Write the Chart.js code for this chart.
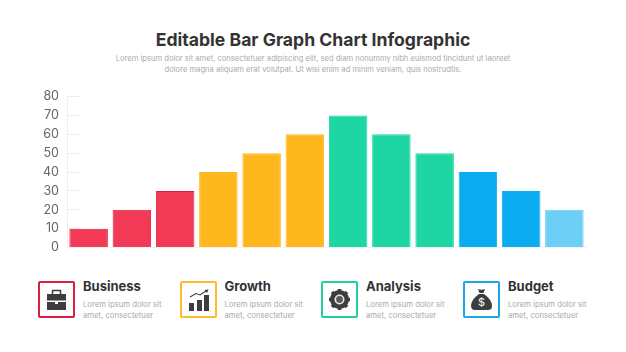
<!DOCTYPE html>
<html>
<head>
<meta charset="utf-8">
<script src="https://cdn.jsdelivr.net/npm/chart.js@4"></script>
<style>
  html, body { margin: 0; padding: 0; background: #fff; }
  body { position: relative; width: 626px; height: 352px; overflow: hidden; font-family: "Inter", sans-serif; }
  .abs { position: absolute; }
  #title { left: 0; width: 626px; top: 29px; text-align: center; font-size: 17.6px; line-height: 22px; font-weight: 700; color: #333; }
  #sub { left: 0; width: 626px; top: 53px; text-align: center; font-size: 7.6px; line-height: 11px; color: #aaa; }
  #chart-wrap { left: 0; top: 68px; width: 626px; height: 208px; }
  .box { width: 33px; height: 33px; top: 281px; border: 2px solid; border-radius: 2px; }
  .box svg { position: absolute; left: 6px; top: 6px; width: 21px; height: 21px; overflow: visible; }
  .head { top: 278px; font-size: 13px; line-height: 16px; font-weight: 700; color: #333; }
  .desc { top: 298.5px; font-size: 7.7px; line-height: 11px; color: #aaa; white-space: nowrap; }
</style>
</head>
<body>
<div id="title" class="abs">Editable Bar Graph Chart Infographic</div>
<div id="sub" class="abs">Lorem ipsum dolor sit amet, consectetuer adipiscing elit, sed diam nonummy nibh euismod tincidunt ut laoreet<br>dolore magna aliquam erat volutpat. Ut wisi enim ad minim veniam, quis nostrudtis.</div>
<div id="chart-wrap" class="abs"><canvas id="bars"></canvas></div>
<div id="cards"></div>

<script>
const categories = ["1", "2", "3", "4", "5", "6", "7", "8", "9", "10", "11", "12"];
const seriesValues = [10, 20, 30, 40, 50, 60, 70, 60, 50, 40, 30, 20];
const barColors = ["#f23955", "#f23955", "#f23955", "#feb71d", "#feb71d", "#feb71d", "#1dd6a3", "#1dd6a3", "#1dd6a3", "#0badf0", "#0badf0", "#6dcef6"];
const barEdges = ["#dc1f42", "#dc1f42", "#dc1f42", "#feb71d", "#feb71d", "#feb71d", "#1dd6a3", "#1dd6a3", "#1dd6a3", "#0badf0", "#0badf0", "#6dcef6"];
const yTicks = [0, 10, 20, 30, 40, 50, 60, 70, 80];

const cardTitles = ["Business", "Growth", "Analysis", "Budget"];
const cardLefts = [38, 179.5, 321, 463];
const cardColors = ["#d91f3f", "#fdbb2d", "#1fd0a0", "#1ba8e8"];
const cardIcons = [
  // briefcase
  '<path d="M6.5 5V1.6h8V5" fill="none" stroke="#3d3d3d" stroke-width="1.5"/><path d="M1 5h19v6.5H1z" fill="#3d3d3d"/><path d="M1 13h8v2h3v-2h8v8H1z" fill="#3d3d3d"/>',
  // growth arrow and bars
  '<path d="M2 8l6-3.500 4 1.500 6-4" fill="none" stroke="#3d3d3d" stroke-width="1.100"/><path d="M16.500 1l4-.500-1.500 3.500z" fill="#3d3d3d"/><path d="M1 14h5v8H1zM9 11h5v11H9zM16 6h5v16h-5z" fill="#3d3d3d"/>',
  // gear
  '<circle cx="10.5" cy="10.5" r="7" fill="none" stroke="#3d3d3d" stroke-width="5"/><path d="M10.5 0v21M0 10.500h21M3 3l15 15M18 3L3 18" stroke="#3d3d3d" stroke-width="3.600"/><circle cx="10.5" cy="10.5" r="5" fill="#e8e8e8"/><circle cx="10.5" cy="10.5" r="3.4" fill="#5a5a5a"/>',
  // money bag
  '<path d="M7 0c2 1 5 1 7 0l-1.500 4h-4z" fill="#3d3d3d"/><path d="M8 5h5c4 3 8 7 8 12 0 3-2 4-4 4H4c-2 0-4-1-4-4 0-5 4-9 8-12z" fill="#3d3d3d"/><text x="10.5" y="17" text-anchor="middle" font-size="11" font-family="Inter" fill="#fff">$</text>'
];
const cardText = ["Lorem ipsum dolor sit", "amet, consectetuer"];

const cards = document.getElementById("cards");
cardTitles.forEach((name, i) => {
  const left = cardLefts[i];
  cards.insertAdjacentHTML("beforeend",
    `<div class="abs box" style="left:${left}px;border-color:${cardColors[i]}"><svg viewBox="0 0 21 21">${cardIcons[i]}</svg></div>` +
    `<div class="abs head" style="left:${left + 45}px">${name}</div>` +
    `<div class="abs desc" style="left:${left + 45}px">${cardText[0]}<br>${cardText[1]}</div>`);
});

new Chart(document.getElementById("bars"), {
  type: "bar",
  data: {
    labels: categories,
    datasets: [{
      data: seriesValues,
      backgroundColor: barColors,
      borderColor: barEdges,
      borderWidth: 1,
      barPercentage: 0.89,
      categoryPercentage: 1,
    }],
  },
  options: {
    responsive: true,
    maintainAspectRatio: false,
    animation: false,
    layout: { padding: { right: 40 } },
    plugins: { legend: { display: false }, tooltip: { enabled: false } },
    scales: {
      x: {
        ticks: { display: false },
        grid: { display: false },
        border: { color: "#f2f2f2" },
      },
      y: {
        min: 0,
        max: 80,
        afterBuildTicks: (scale) => { scale.ticks = yTicks.map((value) => ({ value })); },
        afterFit: (scale) => { scale.width = 67; },
        ticks: { color: "#666", font: { family: "Inter", size: 12.5 }, padding: 21 },
        grid: { drawOnChartArea: false, tickLength: -13, color: "#eeeeee", lineWidth: 1 },
        border: { color: "#eeeeee" },
      },
    },
  },
});
</script>
</body>
</html>
